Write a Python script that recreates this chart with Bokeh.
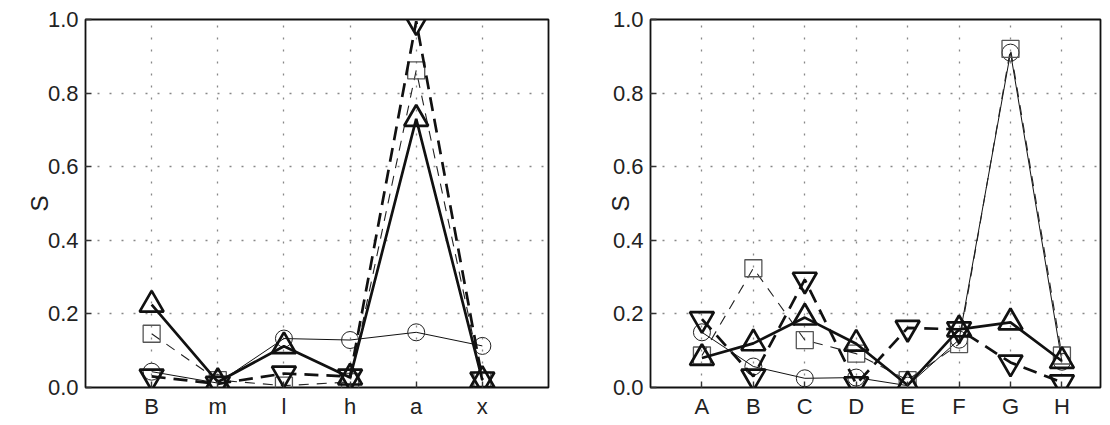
from bokeh.plotting import figure
from bokeh.layouts import row
from bokeh.models import Range1d, FixedTicker, NumeralTickFormatter
from bokeh.embed import file_html
from bokeh.resources import INLINE

# ---- data ----
left_cats = ["B", "m", "l", "h", "a", "x"]
left_circle = [0.043, 0.012, 0.133, 0.129, 0.150, 0.113]
left_square = [0.146, 0.020, 0.005, 0.015, 0.862, 0.018]
left_tri_up = [0.225, 0.015, 0.112, 0.027, 0.730, 0.020]
left_tri_down = [0.030, 0.010, 0.038, 0.030, 0.995, 0.022]

right_cats = ["A", "B", "C", "D", "E", "F", "G", "H"]
right_circle = [0.150, 0.057, 0.025, 0.027, 0.005, 0.130, 0.910, 0.070]
right_square = [0.087, 0.324, 0.129, 0.092, 0.020, 0.118, 0.920, 0.087]
right_tri_up = [0.080, 0.120, 0.190, 0.119, 0.006, 0.158, 0.177, 0.072]
right_tri_down = [0.186, 0.030, 0.293, 0.009, 0.162, 0.158, 0.068, 0.014]

y_ticks = [0.0, 0.2, 0.4, 0.6, 0.8, 1.0]

FONT = "Liberation Sans"
TXT = "#222222"


def make_panel(cats, circ, sq, tup, tdown, width, border_left, border_right, xend,
               label_standoff):
    xs = list(range(1, len(cats) + 1))
    p = figure(width=width, height=421, output_backend="svg", toolbar_location=None,
               x_range=Range1d(0, xend), y_range=Range1d(0, 1.0),
               min_border_left=border_left, min_border_right=border_right,
               min_border_top=19, min_border_bottom=32)
    p.background_fill_color = None
    p.border_fill_color = None
    p.outline_line_color = "#111111"
    p.outline_line_width = 1.8

    # grids
    p.xgrid.ticker = FixedTicker(ticks=xs)
    p.ygrid.ticker = FixedTicker(ticks=y_ticks)
    for g in (p.xgrid, p.ygrid):
        g.grid_line_color = "#888888"
        g.grid_line_dash = "2 10"
        g.grid_line_width = 1.3

    # axes
    p.xaxis.ticker = FixedTicker(ticks=xs)
    p.xaxis.major_label_overrides = {x: c for x, c in zip(xs, cats)}
    p.yaxis.ticker = FixedTicker(ticks=y_ticks)
    p.yaxis.formatter = NumeralTickFormatter(format="0.0")
    p.yaxis.axis_label = "S"
    p.yaxis.axis_label_standoff = label_standoff
    p.yaxis.axis_label_text_font_style = "normal"
    p.yaxis.axis_label_text_font = FONT
    p.yaxis.axis_label_text_font_size = "24px"
    p.yaxis.axis_label_text_color = TXT
    for ax in (p.xaxis[0], p.yaxis[0]):
        ax.axis_line_color = None
        ax.major_tick_in = 6
        ax.major_tick_out = 0
        ax.major_tick_line_color = "#333333"
        ax.major_tick_line_width = 1.4
        ax.minor_tick_line_color = None
        ax.major_label_text_font = FONT
        ax.major_label_text_font_size = "22px"
        ax.major_label_text_color = TXT
    p.xaxis.major_label_standoff = 6
    p.yaxis.major_label_standoff = 7

    # series: circle (thin solid)
    p.line(xs, circ, line_color="#111111", line_width=1.0)
    p.scatter(xs, circ, marker="circle", size=17, fill_color=None,
              line_color="#222222", line_width=1.0)
    # square (thin dashed)
    p.line(xs, sq, line_color="#222222", line_width=1.1, line_dash="10 8")
    p.scatter(xs, sq, marker="square", size=17, fill_color=None,
              line_color="#555555", line_width=1.3)
    # triangle up (thick solid)
    p.line(xs, tup, line_color="#111111", line_width=2.7)
    p.scatter(xs, tup, marker="triangle", size=24, fill_color=None,
              line_color="#111111", line_width=2.7)
    # triangle down (thick dashed)
    p.line(xs, tdown, line_color="#111111", line_width=2.7, line_dash="14 8")
    p.scatter(xs, tdown, marker="inverted_triangle", size=24, fill_color=None,
              line_color="#111111", line_width=2.7)
    return p


p1 = make_panel(left_cats, left_circle, left_square, left_tri_up, left_tri_down,
                width=558, border_left=85, border_right=10, xend=7, label_standoff=-8)
p2 = make_panel(right_cats, right_circle, right_square, right_tri_up, right_tri_down,
                width=544, border_left=92, border_right=2, xend=8.75, label_standoff=-24)

layout = row(p1, p2)
open("out.html", "w").write(file_html(layout, INLINE))
